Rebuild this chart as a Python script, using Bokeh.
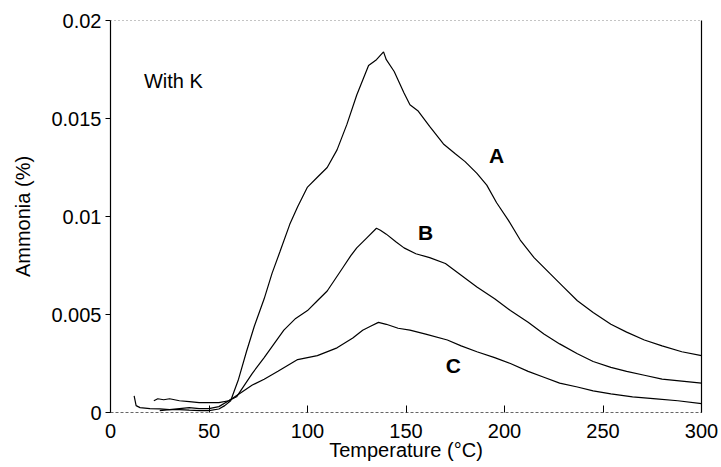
from bokeh.plotting import figure
from bokeh.models import LinearAxis, FixedTicker, CustomJSTickFormatter, Label
from bokeh.embed import file_html
from bokeh.resources import INLINE

# Curve A
temp_a = [12, 13, 15, 20, 25, 30, 35, 40, 45, 50, 55, 58, 61, 65, 69, 73, 78, 82, 86, 91,
          95, 100, 105, 110, 115, 120, 125, 131, 135, 138.6, 140, 144, 149, 152, 156, 162,
          169, 175, 180, 186, 191, 196, 202, 208, 215, 223, 230, 237, 245, 254, 262, 271,
          280, 290, 300]
nh3_a = [0.00085, 0.00035, 0.00025, 0.0002, 0.00018, 0.00015, 0.00015, 0.00012, 0.0001,
         0.0001, 0.00018, 0.00035, 0.0006, 0.0017, 0.0031, 0.0044, 0.0058, 0.0071, 0.0082,
         0.0096, 0.0105, 0.0115, 0.0120, 0.0125, 0.0134, 0.0147, 0.0162, 0.0177, 0.0180,
         0.0184, 0.0180, 0.0174, 0.0163, 0.0157, 0.0154, 0.0146, 0.0137, 0.0132, 0.0128,
         0.0122, 0.0116, 0.0107, 0.0098, 0.0088, 0.0079, 0.0071, 0.0064, 0.0057, 0.0051,
         0.0045, 0.0041, 0.0037, 0.0034, 0.0031, 0.0029]

# Curve B
temp_b = [22, 24, 27, 30, 35, 40, 45, 50, 55, 60, 64, 68, 72, 78, 83, 88, 94, 100, 105,
          110, 114, 118, 122, 125, 130, 135, 137, 140, 145, 149, 155, 162, 170, 178, 186,
          195, 203, 212, 220, 228, 237, 245, 254, 262, 271, 280, 290, 300]
nh3_b = [0.0006, 0.0007, 0.00065, 0.0007, 0.0006, 0.00055, 0.0005, 0.0005, 0.0005, 0.0006,
         0.0008, 0.0014, 0.0020, 0.0028, 0.0035, 0.0042, 0.0048, 0.0052, 0.0057, 0.0062,
         0.0068, 0.0074, 0.0080, 0.0084, 0.0089, 0.0094, 0.0093, 0.0091, 0.0087, 0.0084,
         0.0081, 0.0079, 0.0076, 0.0070, 0.0064, 0.0058, 0.0052, 0.0046, 0.0040, 0.0035,
         0.0030, 0.0026, 0.0023, 0.0021, 0.0019, 0.0017, 0.0016, 0.0015]

# Curve C
temp_c = [25, 30, 35, 40, 45, 50, 55, 60, 66, 72, 78, 85, 95, 105, 115, 123, 128, 132, 136,
          140, 146, 152, 160, 171, 178, 186, 195, 203, 212, 220, 228, 237, 245, 254, 265,
          277, 288, 300]
nh3_c = [0.0001, 0.00015, 0.0002, 0.00025, 0.0002, 0.0002, 0.0003, 0.0006, 0.0010, 0.0014,
         0.0017, 0.0021, 0.0027, 0.0029, 0.0033, 0.0038, 0.0042, 0.0044, 0.0046, 0.0045,
         0.0043, 0.0042, 0.0040, 0.0037, 0.0034, 0.0031, 0.0028, 0.0025, 0.0021, 0.0018,
         0.0015, 0.0013, 0.0011, 0.00095, 0.0008, 0.0007, 0.0006, 0.00045]

x_ticks = [0, 50, 100, 150, 200, 250, 300]
y_ticks = [0, 0.005, 0.01, 0.015, 0.02]

curve_labels = ["A", "B", "C"]
label_x = [196, 160, 174]
label_y = [0.0131, 0.0092, 0.0024]

FONT = "Liberation Sans"

p = figure(width=721, height=467, x_range=(0, 300), y_range=(0, 0.02),
           output_backend="svg", toolbar_location=None,
           min_border_left=110, min_border_right=20, min_border_top=20,
           min_border_bottom=55)
p.outline_line_color = None
p.grid.visible = False
p.background_fill_color = "white"

for xs, ys in [(temp_a, nh3_a), (temp_b, nh3_b), (temp_c, nh3_c)]:
    p.line(xs, ys, line_color="black", line_width=1.2)

xa = p.xaxis[0]
xa.ticker = FixedTicker(ticks=x_ticks)
xa.minor_tick_line_color = None
xa.major_tick_in = 7
xa.major_tick_out = 0
xa.major_tick_line_color = "black"
xa.axis_line_color = "#666666"
xa.axis_line_dash = "3 2"
xa.major_label_text_font = FONT
xa.major_label_text_font_size = "20px"
xa.major_label_text_color = "black"
xa.major_label_standoff = 11
xa.axis_label = "Temperature (°C)"
xa.axis_label_text_font = FONT
xa.axis_label_text_font_size = "20px"
xa.axis_label_text_font_style = "normal"
xa.axis_label_text_color = "black"
xa.axis_label_standoff = -2

ya = p.yaxis[0]
ya.ticker = FixedTicker(ticks=y_ticks)
ya.formatter = CustomJSTickFormatter(
    code="return tick.toFixed(3).replace(/0+$/, '').replace(/\\.$/, '');")
ya.minor_tick_line_color = None
ya.major_tick_in = 0
ya.major_tick_out = 5
ya.axis_line_color = "black"
ya.axis_line_width = 1.2
ya.major_label_text_font = FONT
ya.major_label_text_font_size = "20px"
ya.major_label_text_color = "black"
ya.major_label_standoff = 4
ya.axis_label = "Ammonia (%)"
ya.axis_label_text_font = FONT
ya.axis_label_text_font_size = "20px"
ya.axis_label_text_font_style = "normal"
ya.axis_label_text_color = "black"
ya.axis_label_standoff = 14

right = LinearAxis(ticker=FixedTicker(ticks=[]), axis_line_color="black",
                   axis_line_width=1.2, major_label_text_font_size="0px",
                   minor_tick_line_color=None, major_tick_line_color=None)
p.add_layout(right, "right")
top = LinearAxis(ticker=FixedTicker(ticks=[]), axis_line_color="#888888",
                 axis_line_dash="1 3", major_label_text_font_size="0px",
                 minor_tick_line_color=None, major_tick_line_color=None)
p.add_layout(top, "above")

p.add_layout(Label(x=17, y=0.0169, text="With K", text_font=FONT,
                   text_font_size="20px", text_baseline="middle", text_align="left",
                   text_color="black"))
for t, lx, ly in zip(curve_labels, label_x, label_y):
    p.add_layout(Label(x=lx, y=ly, text=t, text_font=FONT, text_font_size="21px",
                       text_font_style="bold", text_baseline="middle",
                       text_align="center", text_color="black"))

open("out.html", "w").write(file_html(p, INLINE))
